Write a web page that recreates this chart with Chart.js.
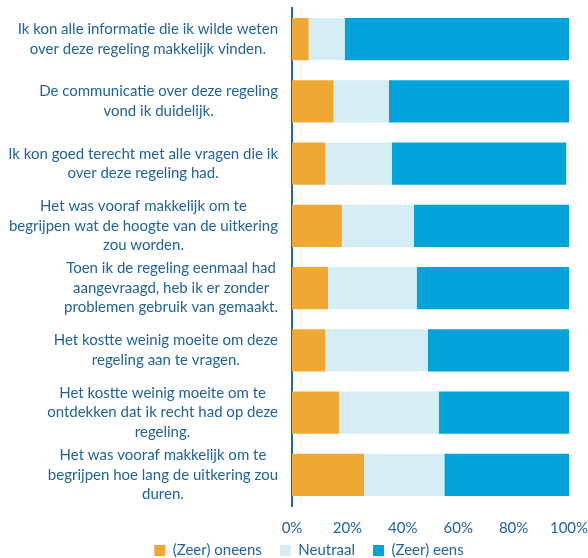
<!DOCTYPE html>
<html>
<head>
<meta charset="utf-8">
<script src="https://cdn.jsdelivr.net/npm/chart.js@4.4.0/dist/chart.umd.min.js"></script>
<style>
  html, body { margin: 0; padding: 0; background: #fff; }
  #wrap { width: 588px; height: 558px; position: relative; }
</style>
</head>
<body>
<div id="wrap"><canvas id="stelling"></canvas></div>
<script>
// stellingen (multi-line labels, zoals in de bron)
var vragen = [
  ["Ik kon alle informatie die ik wilde weten", "over deze regeling makkelijk vinden."],
  ["De communicatie over deze regeling", "vond ik duidelijk."],
  ["Ik kon goed terecht met alle vragen die ik", "over deze regeling had."],
  ["Het was vooraf makkelijk om te", "begrijpen wat de hoogte van de uitkering", "zou worden."],
  ["Toen ik de regeling eenmaal had", "aangevraagd, heb ik er zonder", "problemen gebruik van gemaakt."],
  ["Het kostte weinig moeite om deze", "regeling aan te vragen."],
  ["Het kostte weinig moeite om te", "ontdekken dat ik recht had op deze", "regeling."],
  ["Het was vooraf makkelijk om te", "begrijpen hoe lang de uitkering zou", "duren."]
];

var oneens   = [6, 15, 12, 18, 13, 12, 17, 26];
var neutraal = [13, 20, 24, 26, 32, 37, 36, 29];
var eens     = [81, 65, 63, 56, 55, 51, 47, 45];

var xTicks = [0, 20, 40, 60, 80, 100];

var tekstKleur = "#1F639A";
var fontNaam = "Lato";

// teken y-labels zelf: regels gecentreerd binnen blok, blok rechts uitgelijnd
var labelPlugin = {
  id: "labelPlugin",
  afterLayout: function(chart) {
    // legenda-vak iets omhoog en naar rechts, zoals in de bron
    if (chart.legend) {
      chart.legend.top -= 13; chart.legend.height += 13;
      chart.legend.left += 16; chart.legend.right += 16;
    }
  },
  afterDraw: function(chart) {
    var ctx = chart.ctx;
    var yScale = chart.scales.y;
    var right = yScale.right - 14;
    ctx.save();
    ctx.font = "15px " + fontNaam;
    ctx.fillStyle = tekstKleur;
    ctx.textAlign = "center";
    ctx.textBaseline = "middle";
    var lh = 19.5;
    vragen.forEach(function(lines, i) {
      var y = yScale.getPixelForTick(i);
      var w = 0;
      lines.forEach(function(l) { w = Math.max(w, ctx.measureText(l).width); });
      var cx = right - w / 2;
      var y0 = y - (lines.length - 1) * lh / 2;
      lines.forEach(function(l, k) {
        ctx.fillText(l, cx, y0 + k * lh);
      });
    });
    ctx.restore();
  }
};

new Chart("stelling", {
  type: "bar",
  data: {
    labels: vragen,
    datasets: [{
      label: "(Zeer) oneens",
      data: oneens,
      backgroundColor: "#EFA831"
    }, {
      label: "Neutraal",
      data: neutraal,
      backgroundColor: "#D5EDF4"
    }, {
      label: "(Zeer) eens",
      data: eens,
      backgroundColor: "#02A2DB"
    }]
  },
  options: {
    indexAxis: "y",
    responsive: true,
    maintainAspectRatio: false,
    animation: false,
    layout: { padding: { top: 8, right: 2, left: 0, bottom: 0 } },
    datasets: { bar: { barPercentage: 0.68, categoryPercentage: 1 } },
    scales: {
      x: {
        stacked: true,
        min: 0,
        max: 100,
        afterBuildTicks: function(s) { s.ticks = xTicks.map(function(v) { return { value: v }; }); },
        afterFit: function(s) { s.paddingRight = 19; s.height = 32; },
        grid: { display: false, drawTicks: false },
        border: { display: false },
        ticks: {
          padding: 13,
          color: tekstKleur,
          font: { family: fontNaam, size: 15 },
          callback: function(v) { return v + "%"; }
        }
      },
      y: {
        stacked: true,
        afterFit: function(s) { s.width = 292; },
        grid: { display: false, drawTicks: false },
        border: { display: true, color: "#1B6AA5", width: 2 },
        ticks: { display: false }
      }
    },
    plugins: {
      legend: {
        position: "bottom",
        maxHeight: 20,
        labels: {
          color: tekstKleur,
          font: { family: fontNaam, size: 15 },
          boxWidth: 11,
          boxHeight: 11,
          padding: 18
        }
      },
      tooltip: { enabled: false }
    }
  },
  plugins: [labelPlugin]
});
</script>
</body>
</html>
